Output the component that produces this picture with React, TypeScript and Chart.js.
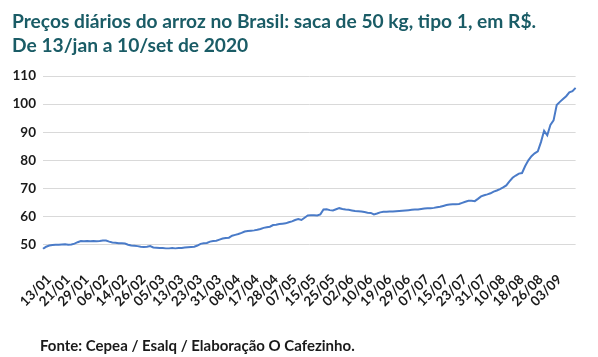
import React, { useEffect, useRef } from "react";
import { Chart, registerables } from "chart.js";

Chart.register(...registerables);

const titleLines = [
  "Preços diários do arroz no Brasil: saca de 50 kg, tipo 1, em R$.",
  "De 13/jan a 10/set de 2020",
];
const footerText = "Fonte: Cepea / Esalq / Elaboração O Cafezinho.";

// x tick labels, one every 6 points
const tickLabels = [
  "13/01", "21/01", "29/01", "06/02", "14/02", "26/02", "05/03", "13/03",
  "23/03", "31/03", "08/04", "17/04", "28/04", "07/05", "15/05", "25/05",
  "02/06", "10/06", "19/06", "29/06", "07/07", "15/07", "23/07", "31/07",
  "10/08", "18/08", "26/08", "03/09",
];
const tickStep = 6;

// daily price (R$ / 50 kg), 13/01 to 10/09/2020
const prices = [
  48.5, 49.3, 49.7, 49.9, 50.0, 50.0, 50.1, 50.2, 50.0, 50.1,
  50.4, 50.9, 51.3, 51.2, 51.3, 51.2, 51.3, 51.2, 51.3, 51.5,
  51.5, 51.1, 50.8, 50.7, 50.5, 50.5, 50.4, 50.0, 49.7, 49.6,
  49.5, 49.3, 49.2, 49.3, 49.5, 49.0, 48.9, 48.8, 48.8, 48.7,
  48.7, 48.8, 48.7, 48.8, 48.8, 49.0, 49.1, 49.2, 49.3, 49.7,
  50.3, 50.5, 50.6, 51.1, 51.3, 51.4, 51.8, 52.2, 52.4, 52.5,
  53.2, 53.5, 53.8, 54.2, 54.7, 54.9, 55.0, 55.1, 55.3, 55.6,
  56.0, 56.2, 56.4, 57.0, 57.1, 57.4, 57.5, 57.6, 58.0, 58.3,
  58.8, 59.1, 58.8, 59.6, 60.4, 60.5, 60.5, 60.4, 60.8, 62.5,
  62.6, 62.3, 62.2, 62.6, 63.0, 62.7, 62.5, 62.4, 62.2, 62.0,
  61.9, 61.8, 61.6, 61.4, 61.3, 60.8, 61.1, 61.5, 61.7, 61.7,
  61.8, 61.8, 61.9, 62.0, 62.1, 62.2, 62.3, 62.4, 62.5, 62.5,
  62.7, 62.9, 63.0, 63.0, 63.1, 63.3, 63.5, 63.8, 64.1, 64.3,
  64.4, 64.4, 64.5, 64.9, 65.3, 65.6, 65.6, 65.5, 66.3, 67.2,
  67.6, 67.9, 68.3, 68.9, 69.3, 69.8, 70.4, 71.1, 72.5, 73.8,
  74.6, 75.3, 75.5, 78.0, 80.0, 81.5, 82.5, 83.2, 86.5, 90.5,
  88.9, 92.6, 94.2, 99.7, 100.8, 101.8, 102.8, 104.2, 104.6, 105.8,
];

const yTicks = [50, 60, 70, 80, 90, 100, 110];

export default function App() {
  const canvasRef = useRef<HTMLCanvasElement | null>(null);

  useEffect(() => {
    document.body.style.margin = "0";
    const ctx = canvasRef.current;
    if (!ctx) return;
    const labels = prices.map((_, i) => String(i));
    const chart = new Chart(ctx, {
      type: "line",
      data: {
        labels,
        datasets: [
          {
            data: prices,
            borderColor: "#4a7bc8",
            borderWidth: 2,
            pointRadius: 0,
            tension: 0,
            fill: false,
          },
        ],
      },
      options: {
        animation: false,
        responsive: false,
        maintainAspectRatio: false,
        layout: { padding: { top: 76, right: 12.5, left: 0, bottom: 0 } },
        plugins: {
          legend: { display: false },
          tooltip: { enabled: false },
          title: { display: false },
        },
        scales: {
          x: {
            type: "category",
            offset: false,
            grid: { display: false },
            border: { display: false },
            afterFit: (scale: any) => {
              scale.height = 107.5;
            },
            ticks: {
              autoSkip: false,
              maxRotation: 45,
              minRotation: 45,
              padding: 14,
              labelOffset: 6,
              color: "#1a1a1a",
              font: { family: "Lato", size: 13.5, weight: "bold" },
              callback: (_v: any, i: number) =>
                i % tickStep === 0 ? tickLabels[i / tickStep] ?? "" : null,
            },
          },
          y: {
            min: 48.3,
            max: 110,
            afterBuildTicks: (scale: any) => {
              scale.ticks = yTicks.map((v) => ({ value: v }));
            },
            afterFit: (scale: any) => {
              scale.width = 43;
            },
            grid: { color: "#d9d9d9", lineWidth: 1, drawTicks: false },
            border: { display: false },
            ticks: {
              padding: 7,
              color: "#1a1a1a",
              font: { family: "Lato", size: 13.5, weight: "bold" },
            },
          },
        },
      },
    });
    return () => chart.destroy();
  }, []);

  return (
    <div
      style={{
        position: "relative",
        width: 598,
        height: 357,
        background: "#ffffff",
        overflow: "hidden",
      }}
    >
      <canvas
        ref={canvasRef}
        width={598}
        height={357}
        style={{ position: "absolute", left: 0, top: 0, width: 598, height: 357 }}
      />
      <div
        style={{
          position: "absolute",
          left: 12,
          top: 9,
          fontFamily: "Lato",
          fontWeight: "bold",
          fontSize: 19.2,
          lineHeight: "24px",
          color: "#1a5c66",
          whiteSpace: "nowrap",
        }}
      >
        <div>{titleLines[0]}</div>
        <div>{titleLines[1]}</div>
      </div>
      <div
        style={{
          position: "absolute",
          left: 40,
          top: 336,
          fontFamily: "Lato",
          fontWeight: "bold",
          fontSize: 15,
          lineHeight: "18px",
          color: "#1a1a1a",
          whiteSpace: "nowrap",
        }}
      >
        {footerText}
      </div>
    </div>
  );
}
